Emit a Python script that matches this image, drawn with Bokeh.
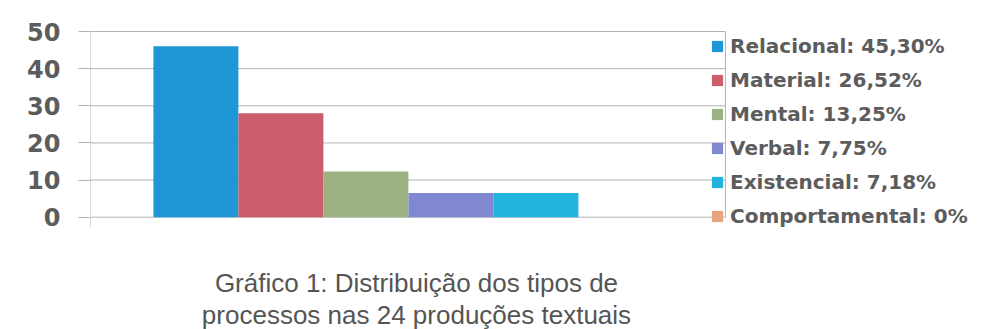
from bokeh.plotting import figure
from bokeh.models import Range1d, FixedTicker, Legend, LegendItem, Label, ColumnDataSource
from bokeh.embed import file_html
from bokeh.resources import INLINE

categories = ["Relacional", "Material", "Mental", "Verbal", "Existencial", "Comportamental"]
values = [46.0, 28.0, 12.3, 6.5, 6.5, 0.0]
legend_labels = ["Relacional: 45,30%", "Material: 26,52%", "Mental: 13,25%",
                 "Verbal: 7,75%", "Existencial: 7,18%", "Comportamental: 0%"]
colors = ["#1F97D6", "#CB5D6D", "#9CB282", "#8088D2", "#22B3DF", "#E8A47E"]
y_ticks = [0, 10, 20, 30, 40, 50]
title_lines = ["Gráfico 1: Distribuição dos tipos de", "processos nas 24 produções textuais"]

W, H = 981, 329
left = 90
px_per_x = 85.0
px_per_y = 185.7 / 50.0
y0_px = 216.7
x0, x_plot_end = -0.74, 6.73
y_max = 50 + (y0_px - 185.7) / px_per_y
y_min = -(H - y0_px) / px_per_y
x_max = x0 + (W - left) / px_per_x

p = figure(width=W, height=H, output_backend="svg", toolbar_location=None,
           x_axis_location=None,
           x_range=Range1d(x0, x_max), y_range=Range1d(y_min, y_max),
           min_border=0, min_border_left=left)
p.background_fill_color = "white"
p.border_fill_color = "white"
p.outline_line_color = None

grid_color = "#b4b4b4"
# grid lines and frame edges of the drawing area
p.segment(x0=[x0] * len(y_ticks), x1=[x_plot_end] * len(y_ticks), y0=y_ticks, y1=y_ticks,
          line_color=grid_color, line_width=1)
p.segment(x0=[x0, x_plot_end], x1=[x0, x_plot_end], y0=[-2.6, 0], y1=[max(y_ticks)] * 2,
          line_color=grid_color, line_width=1)

src = ColumnDataSource(dict(x=[i + 0.5 for i in range(len(categories))], top=values,
                            color=colors, cat=categories))
r = p.vbar(x="x", top="top", width=1.0, bottom=0, source=src, fill_color="color",
           line_color=None)

p.xgrid.visible = False
p.ygrid.visible = False
p.yaxis.ticker = FixedTicker(ticks=y_ticks)
p.yaxis.minor_tick_line_color = None
p.yaxis.major_tick_out = 12
p.yaxis.major_tick_in = 0
p.yaxis.major_tick_line_color = grid_color
p.yaxis.axis_line_color = None
p.yaxis.major_label_standoff = 18
p.yaxis.major_label_text_font = "DejaVu Sans"
p.yaxis.major_label_text_font_style = "bold"
p.yaxis.major_label_text_font_size = "24px"
p.yaxis.major_label_text_color = "#5c5c5c"

items = [LegendItem(label=legend_labels[i], renderers=[r], index=i) for i in range(len(categories))]
legend = Legend(items=items, location=(620, 101), orientation="vertical",
                glyph_width=14, glyph_height=14, label_height=20, spacing=10,
                label_standoff=6, padding=0, margin=0,
                label_text_font="DejaVu Sans", label_text_font_style="bold",
                label_text_font_size="20px", label_text_color="#5c5c5c",
                border_line_color=None, background_fill_alpha=0)
p.add_layout(legend)

for txt, yb in zip(title_lines, [-17.85, -26.2]):
    p.add_layout(Label(x=3.095, y=yb, text=txt, text_align="center", text_baseline="alphabetic",
                       text_font="Liberation Sans", text_font_size="26px", text_color="#555555"))

open("out.html", "w").write(file_html(p, INLINE))
